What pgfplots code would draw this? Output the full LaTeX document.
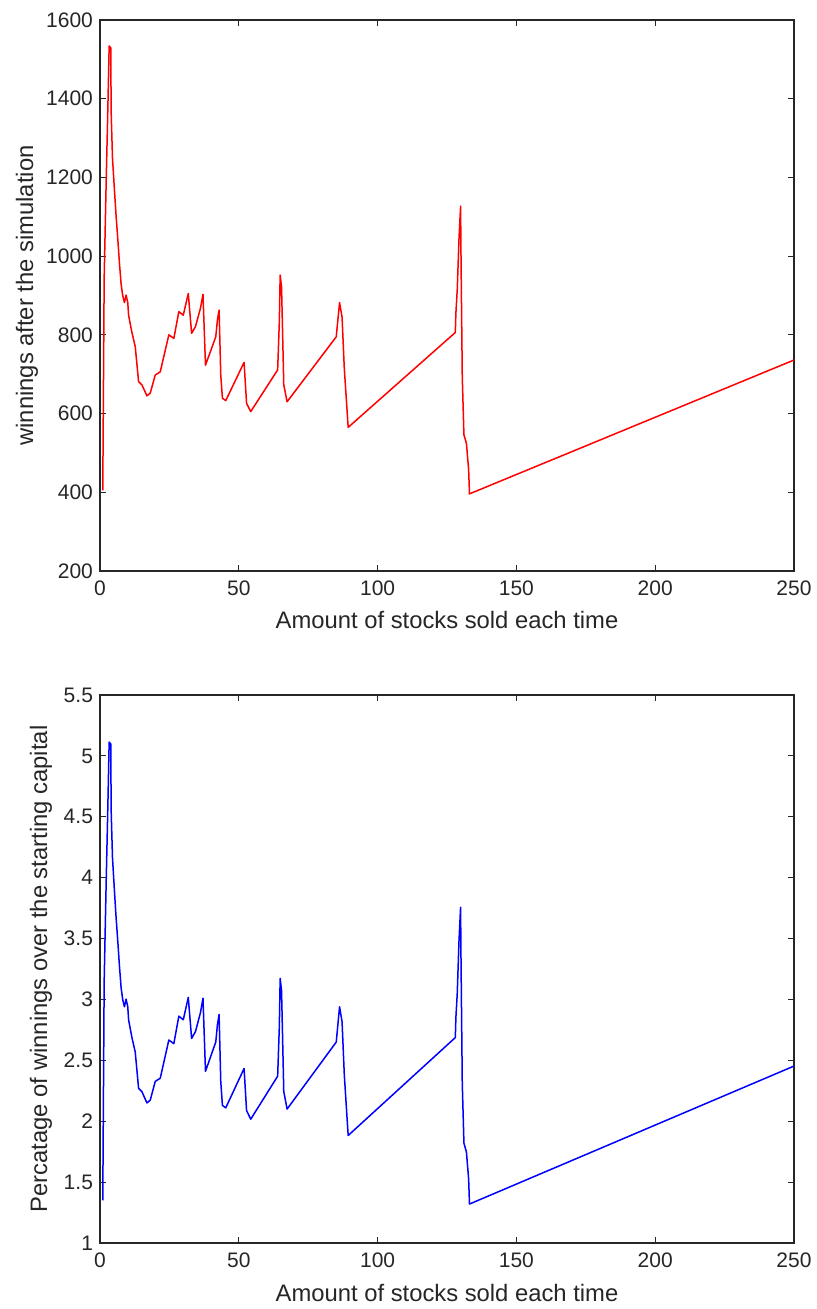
\documentclass[border=0pt]{standalone}
\usepackage{pgfplots}
\usepackage{pgfplotstable}
\pgfplotsset{compat=1.18}
\usepackage{fontspec}
\setmainfont{Liberation Sans}
\definecolor{axgray}{rgb}{0.15,0.15,0.15}
\newcommand{\labfont}{\fontsize{11.9}{14}\selectfont}
\newcommand{\tickfont}{\fontsize{10.5}{12}\selectfont}

\pgfplotstableread{
x y
1.0 405
1.5 944
2.2 1181
2.8 1367
3.3 1534
3.9 1529
4.0 1371
4.5 1249
5.2 1168
5.8 1102
6.4 1044
7.0 983
7.6 929
8.2 899
8.8 882
9.4 901
10.0 882
10.3 850
11.5 806
12.7 770
13.9 681
15.1 673
16.9 645
18.1 652
19.9 698
21.7 706
24.8 800
26.6 791
28.4 859
30.0 850
31.8 905
33.0 804
34.4 821
36.2 868
37.1 903
38.0 723
41.7 795
42.3 838
42.9 863
43.5 698
44.1 639
45.3 633
51.9 730
52.8 626
54.3 605
64.0 711
64.6 833
64.9 952
65.4 922
66.2 673
67.4 630
85.1 795
86.3 882
87.2 845
88.0 715
89.4 565
128.0 806
128.2 855
128.7 916
129.3 1041
129.9 1127
130.0 1030
130.5 694
131.1 546
132.0 524
132.8 457
133.1 396
250.0 736
}\tablewin

\pgfplotstableread{
x y
1.0 1.350
1.5 3.147
2.2 3.937
2.8 4.557
3.3 5.113
3.9 5.097
4.0 4.570
4.5 4.163
5.2 3.893
5.8 3.673
6.4 3.480
7.0 3.277
7.6 3.097
8.2 2.997
8.8 2.940
9.4 3.003
10.0 2.940
10.3 2.833
11.5 2.687
12.7 2.567
13.9 2.270
15.1 2.243
16.9 2.150
18.1 2.173
19.9 2.327
21.7 2.353
24.8 2.667
26.6 2.637
28.4 2.863
30.0 2.833
31.8 3.017
33.0 2.680
34.4 2.737
36.2 2.893
37.1 3.010
38.0 2.410
41.7 2.650
42.3 2.793
42.9 2.877
43.5 2.327
44.1 2.130
45.3 2.110
51.9 2.433
52.8 2.087
54.3 2.017
64.0 2.370
64.6 2.777
64.9 3.173
65.4 3.073
66.2 2.243
67.4 2.100
85.1 2.650
86.3 2.940
87.2 2.817
88.0 2.383
89.4 1.883
128.0 2.687
128.2 2.850
128.7 3.053
129.3 3.470
129.9 3.757
130.0 3.433
130.5 2.313
131.1 1.820
132.0 1.747
132.8 1.523
133.1 1.320
250.0 2.453
}\tablepct

\pgfplotsset{mystyle/.style={
  scale only axis, width=347pt,
  xmin=0, xmax=250, xtick={0,50,100,150,200,250},
  tick align=inside,
  major tick length=3pt,
  axis line style={axgray, line width=0.6pt},
  tick style={axgray, line width=0.6pt},
  xticklabel style={font=\tickfont, text=axgray, yshift=-1.5pt},
  yticklabel style={font=\tickfont, text=axgray},
  /pgf/number format/assume math mode=true,
  /pgf/number format/1000 sep={},
  every axis plot/.append style={line width=0.75pt, line join=round},
}}

\begin{document}
\begin{tikzpicture}
\useasboundingbox (-50pt,-369pt) rectangle (358.5pt,285.5pt);
\begin{axis}[mystyle, height=275.5pt, at={(0,0)}, anchor=south west,
  ymin=200, ymax=1600, ytick={200,400,600,800,1000,1200,1400,1600},
  xlabel={Amount of stocks sold each time},
  ylabel={winnings after the simulation},
  every axis x label/.style={at={(axis description cs:0.5,-0.0889)}, anchor=center, font=\labfont, text=axgray},
  every axis y label/.style={at={(axis description cs:-0.1052,0.5)}, rotate=90, anchor=center, font=\labfont, text=axgray},
]
\addplot[color=red, no marks] table[x=x, y=y] {\tablewin};
\end{axis}
\begin{axis}[mystyle, height=274pt, at={(0,-336pt)}, anchor=south west,
  ymin=1, ymax=5.5, ytick={1,1.5,2,2.5,3,3.5,4,4.5,5,5.5},
  xlabel={Amount of stocks sold each time},
  ylabel={Percatage of winnings over the starting capital},
  every axis x label/.style={at={(axis description cs:0.5,-0.0912)}, anchor=center, font=\labfont, text=axgray},
  every axis y label/.style={at={(axis description cs:-0.085,0.5)}, rotate=90, anchor=center, font=\labfont, text=axgray},
]
\addplot[color=blue, no marks] table[x=x, y=y] {\tablepct};
\end{axis}
\end{tikzpicture}
\end{document}
